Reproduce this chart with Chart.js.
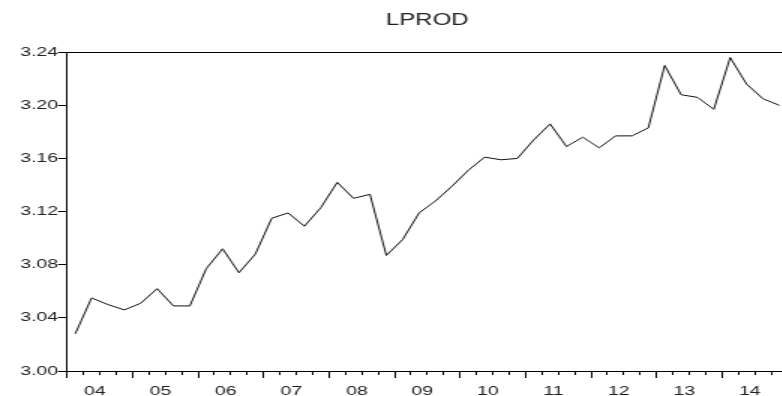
<!DOCTYPE html>
<html>
<head>
<meta charset="utf-8">
<title>LPROD</title>
<script src="https://cdn.jsdelivr.net/npm/chart.js"></script>
<style>
  html, body { margin: 0; padding: 0; background: #fff; overflow: hidden; }
  #wrap { width: 782px; height: 396px; overflow: hidden; }
  /* drawn narrow, shown wide (EViews style stretched graph) */
  #lprodChart { display: block; width: 801px; height: 396px; }
</style>
</head>
<body>
<div id="wrap">
  <canvas id="lprodChart" width="534" height="396" style="width:801px;height:396px"></canvas>
</div>
<script>
// quarterly series, 2004Q1 .. 2014Q4
const years = [2004, 2005, 2006, 2007, 2008, 2009, 2010, 2011, 2012, 2013, 2014];
const yearLabels = ['04', '05', '06', '07', '08', '09', '10', '11', '12', '13', '14'];
const lprod = [
  3.028, 3.055, 3.050, 3.046,   // 2004
  3.051, 3.062, 3.049, 3.049,   // 2005
  3.077, 3.092, 3.074, 3.088,   // 2006
  3.115, 3.119, 3.109, 3.123,   // 2007
  3.142, 3.130, 3.133, 3.087,   // 2008
  3.099, 3.119, 3.128, 3.139,   // 2009
  3.151, 3.161, 3.159, 3.160,   // 2010
  3.174, 3.186, 3.169, 3.176,   // 2011
  3.168, 3.177, 3.177, 3.183,   // 2012
  3.230, 3.208, 3.206, 3.197,   // 2013
  3.236, 3.216, 3.205, 3.200    // 2014
];
const yTicks = [3.00, 3.04, 3.08, 3.12, 3.16, 3.20, 3.24];

const nQuarters = years.length * 4;
const font = { family: 'Liberation Sans, Arial, sans-serif', size: 13 };
const clear = 'rgba(0,0,0,0)';

// each quarter sits in the middle of its own slot on the time axis
const points = lprod.map((v, i) => ({ x: i + 0.5, y: v }));

const ctx = document.getElementById('lprodChart').getContext('2d');
new Chart(ctx, {
  type: 'line',
  data: {
    datasets: [{
      label: 'LPROD',
      data: points,
      xAxisID: 'x',
      yAxisID: 'y',
      borderColor: '#111',
      borderWidth: 1,
      pointRadius: 0,
      tension: 0,
      fill: false
    }]
  },
  options: {
    responsive: false,
    devicePixelRatio: 1,
    animation: false,
    layout: { padding: { left: 0, right: 5, top: 0, bottom: 0 } },
    scales: {
      x: {
        type: 'linear',
        position: 'bottom',
        min: 0,
        max: nQuarters,
        afterFit: s => { s.height = 25; },
        ticks: {
          stepSize: 1,
          autoSkip: false,
          maxRotation: 0,
          padding: 9,
          labelOffset: -3.3,
          color: '#222',
          font: font,
          // year label in the middle of each year
          callback: v => (v % 4 === 2 ? yearLabels[(v - 2) / 4] : '')
        },
        grid: {
          drawOnChartArea: true,
          color: c => (c.tick && c.tick.value === nQuarters ? '#000' : clear),
          tickColor: '#000',
          tickLength: 4
        },
        border: { display: true, color: '#000', width: 1 }
      },
      // longer tick marks at the start of each year
      xYear: {
        type: 'linear',
        position: { y: 3.0 },
        min: 0,
        max: nQuarters,
        ticks: { display: false, stepSize: 4, autoSkip: false },
        grid: { drawOnChartArea: false, tickColor: '#000', tickLength: 7 },
        border: { display: false }
      },
      y: {
        type: 'linear',
        position: 'left',
        min: yTicks[0],
        max: yTicks[yTicks.length - 1],
        afterFit: s => { s.width = 44.7; },
        afterBuildTicks: s => { s.ticks = yTicks.map(v => ({ value: v })); },
        ticks: {
          padding: 0,
          color: '#222',
          font: font,
          callback: v => v.toFixed(2)
        },
        grid: {
          drawOnChartArea: true,
          // only the top frame line shows inside the plot
          color: c => (c.tick && Math.abs(c.tick.value - yTicks[yTicks.length - 1]) < 1e-9 ? '#000' : clear),
          tickColor: '#000',
          tickLength: 6
        },
        border: { display: true, color: '#000', width: 1 }
      }
    },
    plugins: {
      legend: { display: false },
      tooltip: { enabled: false },
      title: {
        display: true,
        text: 'LPROD',
        fullSize: false,
        color: '#222',
        font: { family: 'Liberation Sans, Arial, sans-serif', size: 16, weight: 'normal' },
        padding: { top: 11, bottom: 22 }
      }
    }
  }
});
</script>
</body>
</html>
